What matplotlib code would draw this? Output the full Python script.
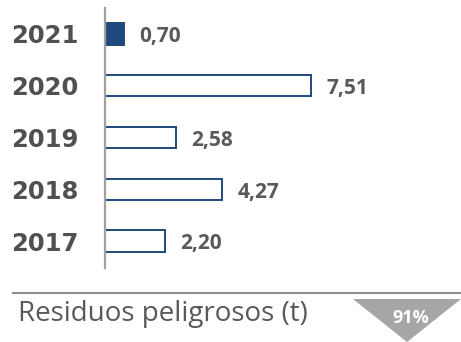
import matplotlib.pyplot as plt
from matplotlib.patches import Polygon
from matplotlib.lines import Line2D

# residuos peligrosos por año (toneladas)
years = ['2017', '2018', '2019', '2020', '2021']
values = [2.20, 4.27, 2.58, 7.51, 0.70]
value_labels = ['2,20', '4,27', '2,58', '7,51', '0,70']
title = 'Residuos peligrosos (t)'
change = '91%'

W, H = 461, 342
blue = '#1F497D'
gray_text = '#595959'

fig = plt.figure(figsize=(W / 100, H / 100), dpi=100)

# axes placed in pixel terms: left spine at x=105, from y=8 to y=268
ax = fig.add_axes([105 / W, (H - 268) / H, (W - 105) / W, 260 / H])
pos = list(range(len(years)))
faces = ['white'] * (len(years) - 1) + [blue]
ax.barh(pos, values, height=0.41, color=faces, edgecolor=blue, linewidth=1.4)

ax.set_xlim(0, (W - 105) / 27.4)
ax.set_ylim(-0.52, 4.50)
ax.set_yticks(pos)
ax.set_yticklabels(years, fontfamily='DejaVu Sans', fontweight='bold',
                   fontsize=17.5, color='#505050')
ax.tick_params(axis='y', length=0, pad=19)
ax.set_xticks([])
for s in ['top', 'right', 'bottom']:
    ax.spines[s].set_visible(False)
ax.spines['left'].set_color('#A0A0A0')
ax.spines['left'].set_linewidth(1.6)

for p, v, lab in zip(pos, values, value_labels):
    ax.annotate(lab, (v, p), xytext=(11, -6), textcoords='offset points',
                ha='left', va='baseline', fontfamily='Open Sans',
                fontweight='bold', fontsize=15, color=gray_text)

# footer: rule, caption and the down-arrow badge
fig.add_artist(Line2D([13 / W, 1], [(H - 293) / H] * 2, color='#8C8C8C',
                      linewidth=1.5, transform=fig.transFigure))
fig.text(18 / W, (H - 321) / H, title, fontfamily='Open Sans', fontsize=20,
         color=gray_text, ha='left', va='baseline')
tri = Polygon([(353 / W, (H - 299) / H), (461 / W, (H - 299) / H),
               (407 / W, (H - 342) / H)], closed=True,
              facecolor='#A6A6A6', edgecolor='none', transform=fig.transFigure)
fig.add_artist(tri)
fig.text(411 / W, (H - 323) / H, change, fontfamily='Open Sans',
         fontweight='bold', fontsize=13, color='white', ha='center',
         va='baseline')

fig.savefig('out.png', dpi=100)
